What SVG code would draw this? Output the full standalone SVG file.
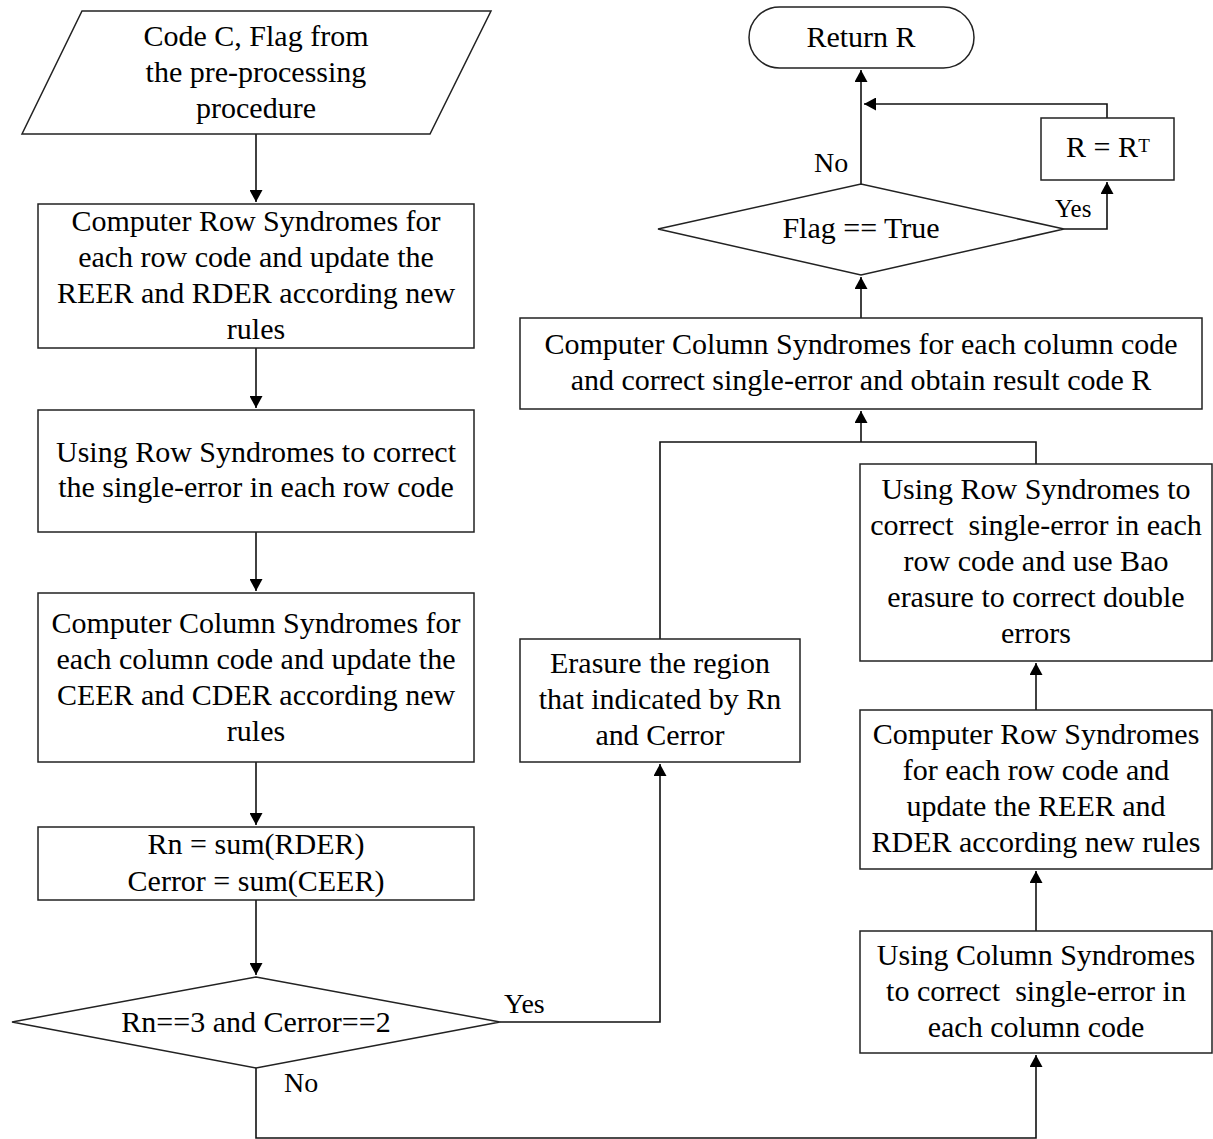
<svg xmlns="http://www.w3.org/2000/svg" width="1213" height="1139" viewBox="0 0 1213 1139">
<style>
.s{fill:#fff;stroke:#222;stroke-width:1.5}
.t{font-family:"Liberation Serif","Times New Roman",serif;font-size:30px;fill:#000;text-anchor:middle}
.l{font-family:"Liberation Serif","Times New Roman",serif;font-size:28px;fill:#000}
.c{fill:none;stroke:#111;stroke-width:1.6}
</style>
<defs>
<marker id="a" markerWidth="13" markerHeight="13" refX="12" refY="6.5" orient="auto" markerUnits="userSpaceOnUse">
<path d="M0,0 L12,6.5 L0,13 z" fill="#000"/>
</marker>
</defs>
<rect width="1213" height="1139" fill="#fff"/>
<g id="connectors">
<path class="c" d="M256,134 V202" marker-end="url(#a)"/>
<path class="c" d="M256,348 V408" marker-end="url(#a)"/>
<path class="c" d="M256,532 V591" marker-end="url(#a)"/>
<path class="c" d="M256,762 V825" marker-end="url(#a)"/>
<path class="c" d="M256,900 V975" marker-end="url(#a)"/>
<path class="c" d="M500,1022 H660 V764" marker-end="url(#a)"/>
<path class="c" d="M256,1068 V1138 H1036 V1055" marker-end="url(#a)"/>
<path class="c" d="M1036,931 V871" marker-end="url(#a)"/>
<path class="c" d="M1036,710 V663" marker-end="url(#a)"/>
<path class="c" d="M660,639 V442 H1036 V464"/>
<path class="c" d="M861,442 V411" marker-end="url(#a)"/>
<path class="c" d="M861,318 V277" marker-end="url(#a)"/>
<path class="c" d="M861,184 V70" marker-end="url(#a)"/>
<path class="c" d="M1064,229 H1107 V182" marker-end="url(#a)"/>
<path class="c" d="M1107,118 V104 H864" marker-end="url(#a)"/>
<text class="l" x="814" y="172">No</text>
<text class="l" x="1055" y="217" style="font-size:25px">Yes</text>
<text class="l" x="504" y="1013">Yes</text>
<text class="l" x="284" y="1092">No</text>
</g>
<g id="input">
<polygon class="s" points="82,11 491,11 430,134 22,134"/>
<text class="t" x="256" y="46">Code C, Flag from</text>
<text class="t" x="256" y="82">the pre-processing</text>
<text class="t" x="256" y="118">procedure</text>
</g>
<g id="rowSyndromes">
<rect class="s" x="38" y="204" width="436" height="144"/>
<text class="t" x="256" y="231">Computer Row Syndromes for</text>
<text class="t" x="256" y="267">each row code and update the</text>
<text class="t" x="256" y="303">REER and RDER according new</text>
<text class="t" x="256" y="339">rules</text>
</g>
<g id="rowCorrect">
<rect class="s" x="38" y="410" width="436" height="122"/>
<text class="t" x="256" y="462">Using Row Syndromes to correct</text>
<text class="t" x="256" y="497">the single-error in each row code</text>
</g>
<g id="colSyndromes">
<rect class="s" x="38" y="593" width="436" height="169"/>
<text class="t" x="256" y="633">Computer Column Syndromes for</text>
<text class="t" x="256" y="669">each column code and update the</text>
<text class="t" x="256" y="705">CEER and CDER according new</text>
<text class="t" x="256" y="741">rules</text>
</g>
<g id="sums">
<rect class="s" x="38" y="827" width="436" height="73"/>
<text class="t" x="256" y="854">Rn = sum(RDER)</text>
<text class="t" x="256" y="891">Cerror = sum(CEER)</text>
</g>
<g id="decision1">
<polygon class="s" points="12,1022 256,977 500,1022 256,1068"/>
<text class="t" x="256" y="1032">Rn==3 and Cerror==2</text>
</g>
<g id="erasure">
<rect class="s" x="520" y="639" width="280" height="123"/>
<text class="t" x="660" y="673">Erasure the region</text>
<text class="t" x="660" y="709">that indicated by Rn</text>
<text class="t" x="660" y="745">and Cerror</text>
</g>
<g id="colCorrect">
<rect class="s" x="860" y="931" width="352" height="122"/>
<text class="t" x="1036" y="965">Using Column Syndromes</text>
<text class="t" x="1036" y="1001">to correct&#160; single-error in</text>
<text class="t" x="1036" y="1037">each column code</text>
</g>
<g id="rowSyndromes2">
<rect class="s" x="860" y="710" width="352" height="159"/>
<text class="t" x="1036" y="744">Computer Row Syndromes</text>
<text class="t" x="1036" y="780">for each row code and</text>
<text class="t" x="1036" y="816">update the REER and</text>
<text class="t" x="1036" y="852">RDER according new rules</text>
</g>
<g id="rowCorrect2">
<rect class="s" x="860" y="464" width="352" height="197"/>
<text class="t" x="1036" y="499">Using Row Syndromes to</text>
<text class="t" x="1036" y="535">correct&#160; single-error in each</text>
<text class="t" x="1036" y="571">row code and use Bao</text>
<text class="t" x="1036" y="607">erasure to correct double</text>
<text class="t" x="1036" y="643">errors</text>
</g>
<g id="colFinal">
<rect class="s" x="520" y="318" width="682" height="91"/>
<text class="t" x="861" y="354">Computer Column Syndromes for each column code</text>
<text class="t" x="861" y="390">and correct single-error and obtain result code R</text>
</g>
<g id="decision2">
<polygon class="s" points="658,229 861,184 1064,229 861,275"/>
<text class="t" x="861" y="238">Flag == True</text>
</g>
<g id="transpose">
<rect class="s" x="1041" y="118" width="133" height="62"/>
<text class="t" x="1102" y="157">R = R</text>
<text class="t" x="1144" y="152" style="font-size:19px">T</text>
</g>
<g id="return">
<rect class="s" x="749" y="7" width="225" height="61" rx="30.5" ry="30.5"/>
<text class="t" x="861" y="47">Return R</text>
</g>
</svg>
